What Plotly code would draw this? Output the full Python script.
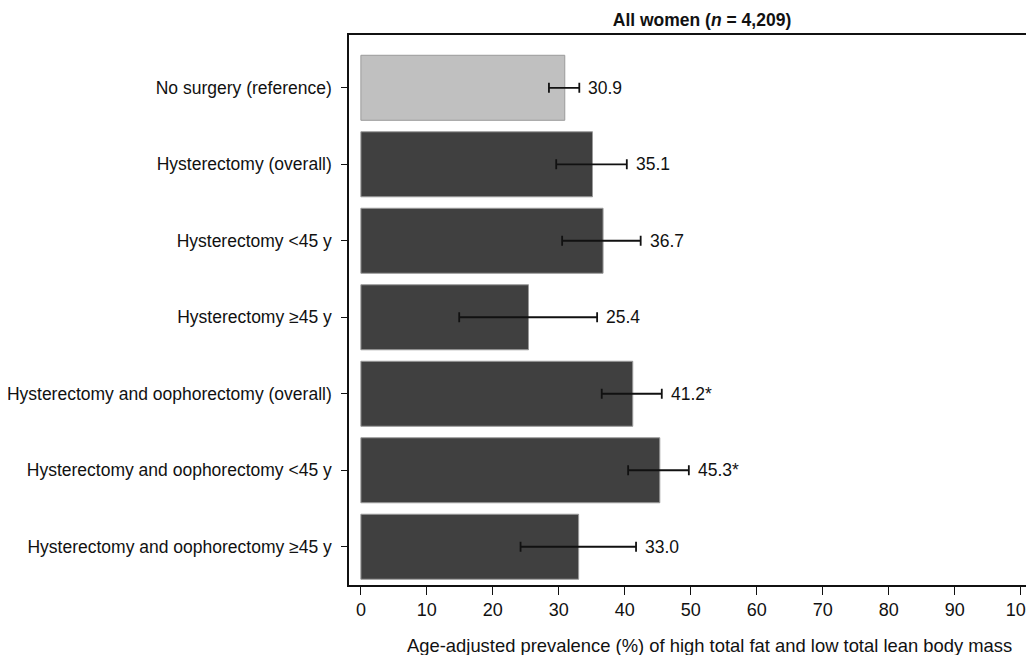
import plotly.graph_objects as go

categories = [
    "No surgery (reference)",
    "Hysterectomy (overall)",
    "Hysterectomy <45 y",
    "Hysterectomy \u226545 y",
    "Hysterectomy and oophorectomy (overall)",
    "Hysterectomy and oophorectomy <45 y",
    "Hysterectomy and oophorectomy \u226545 y",
]
prevalence = [30.9, 35.1, 36.7, 25.4, 41.2, 45.3, 33.0]
ci_lower = [28.5, 29.6, 30.5, 14.9, 36.5, 40.5, 24.2]
ci_upper = [33.1, 40.3, 42.4, 35.8, 45.6, 49.7, 41.7]
value_labels = ["30.9", "35.1", "36.7", "25.4", "41.2*", "45.3*", "33.0"]
x_ticks = [0, 10, 20, 30, 40, 50, 60, 70, 80, 90, 100]

colors = ["#c0c0c0"] + ["#404040"] * (len(categories) - 1)
FONT = "Liberation Sans, Arial, sans-serif"

fig = go.Figure()
fig.add_trace(go.Bar(
    y=categories,
    x=prevalence,
    orientation="h",
    marker=dict(color=colors, line=dict(color="#9a9a9a", width=1)),
    error_x=dict(
        type="data",
        symmetric=False,
        array=[u - p for u, p in zip(ci_upper, prevalence)],
        arrayminus=[p - l for p, l in zip(prevalence, ci_lower)],
        color="#111111",
        thickness=1.8,
        width=5,
    ),
    hoverinfo="skip",
    showlegend=False,
))

for cat, up, lab in zip(categories, ci_upper, value_labels):
    fig.add_annotation(
        x=up, y=cat, text=lab, showarrow=False,
        xanchor="left", yanchor="middle", xshift=7,
        font=dict(family=FONT, size=17.5, color="#111111"),
    )

fig.add_annotation(
    text="Age-adjusted prevalence (%) of high total fat and low total lean body mass",
    xref="paper", yref="paper", x=0.529, y=0, xanchor="center", yanchor="middle",
    yshift=-60, showarrow=False,
    font=dict(family=FONT, size=18.4, color="#111111"),
)

fig.update_layout(
    width=1034, height=647,
    margin=dict(l=341, r=12, t=27, b=70, autoexpand=False),
    paper_bgcolor="white", plot_bgcolor="white",
    bargap=0.15,
    font=dict(family=FONT, size=17, color="#111111"),
    title=dict(
        text="<b>All women (<i>n</i> = 4,209)</b>",
        x=694 / 1034, xanchor="center", y=1 - 12 / 647, yanchor="middle",
        font=dict(family=FONT, size=17.5, color="#111111"),
    ),
)
fig.update_xaxes(
    range=[-1.8, 101.4],
    tickvals=x_ticks, ticktext=[str(t) for t in x_ticks],
    ticks="outside", ticklen=8, tickcolor="#111111", tickwidth=1,
    tickfont=dict(family=FONT, size=18, color="#111111"),
    ticklabeloverflow="allow",
    showgrid=False, zeroline=False,
    showline=True, linecolor="#111111", linewidth=1.5, mirror=True,
)
fig.update_yaxes(
    categoryorder="array", categoryarray=categories,
    range=[6.5, -0.69],
    ticks="outside", ticklen=6, tickcolor="#111111", tickwidth=1,
    ticklabelstandoff=6,
    tickfont=dict(family=FONT, size=17.5, color="#111111"),
    showgrid=False, zeroline=False,
    showline=True, linecolor="#111111", linewidth=1.5, mirror=True,
)

fig.write_html("out.html")
